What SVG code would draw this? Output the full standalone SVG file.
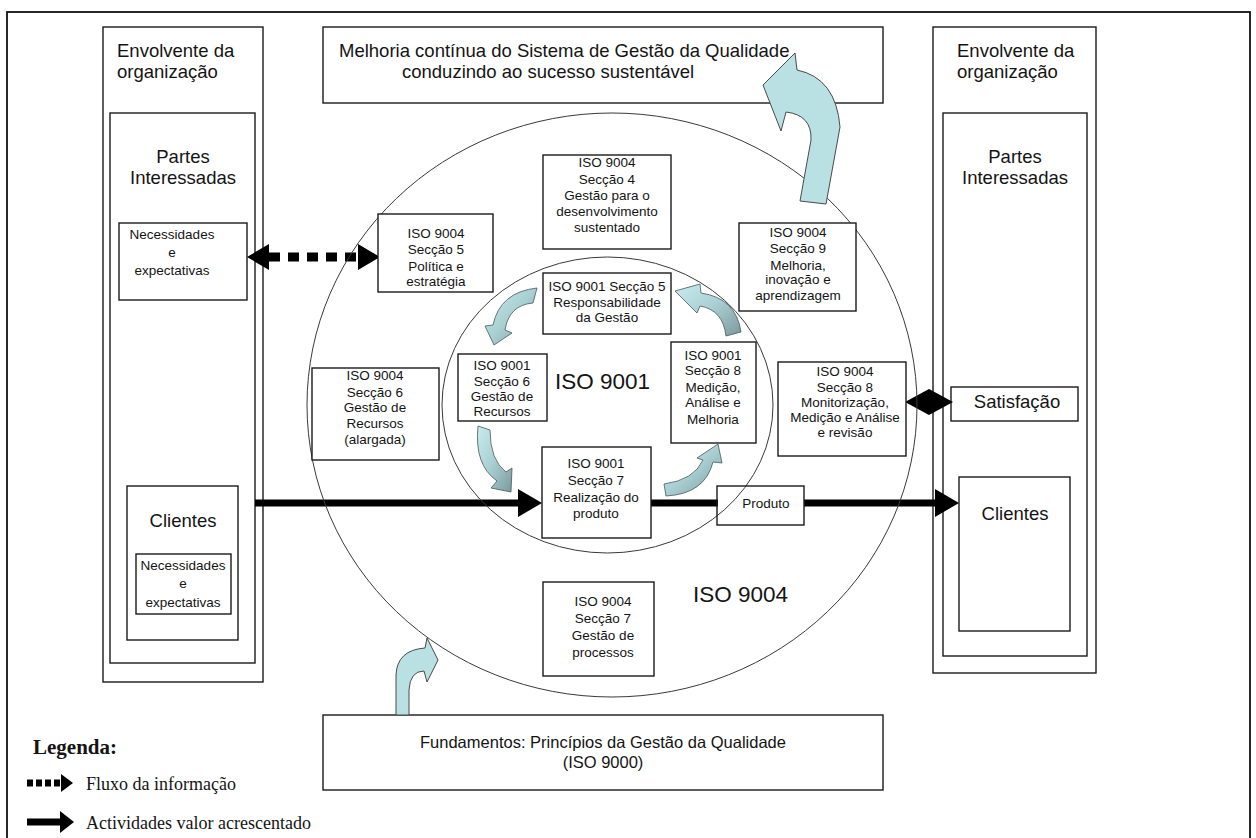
<svg xmlns="http://www.w3.org/2000/svg" width="1256" height="838" viewBox="0 0 1256 838">
<style>
text{font-family:"Liberation Sans",Arial,sans-serif;fill:#141414}
.box{fill:#fff;stroke:#1a1a1a;stroke-width:1.4}
.open{fill:none;stroke:#1a1a1a;stroke-width:1.4}
.ring{fill:none;stroke:#3a3a3a;stroke-width:1}
.t18{font-size:18.5px}
.t18c{font-size:18.5px;text-anchor:middle}
.t13{font-size:13.5px;text-anchor:middle}
.big{font-size:22.5px}
.leg{font-family:"Liberation Serif","Times New Roman",serif;font-size:18px}
.legb{font-family:"Liberation Serif","Times New Roman",serif;font-size:21px;font-weight:bold}
.thick{stroke:#000;stroke-width:7;fill:none}
.dash{stroke:#000;stroke-width:9;fill:none;stroke-dasharray:11 8}
.bigblue{fill:#b9e0e3;stroke:#4a4a4a;stroke-width:1}
.smallblue{fill:url(#gBlue);stroke:#46585b;stroke-width:0.8}
</style>
<defs>
<linearGradient id="gBlue" x1="0" y1="0" x2="1" y2="1">
<stop offset="0" stop-color="#c9ebee"/>
<stop offset="0.5" stop-color="#a9cfd3"/>
<stop offset="1" stop-color="#7b999d"/>
</linearGradient>
<marker id="headThick" markerUnits="userSpaceOnUse" markerWidth="24" markerHeight="28" refX="0" refY="14" orient="auto">
<path d="M0,0 L24,14 L0,28 Z" fill="#000"/>
</marker>
<marker id="headDash" markerUnits="userSpaceOnUse" markerWidth="22" markerHeight="26" refX="0" refY="13" orient="auto-start-reverse">
<path d="M0,0 L22,13 L0,26 Z" fill="#000"/>
</marker>
<marker id="headSmallThick" markerUnits="userSpaceOnUse" markerWidth="14" markerHeight="22" refX="0" refY="11" orient="auto">
<path d="M0,0 L14,11 L0,22 Z" fill="#000"/>
</marker>
<marker id="headSmallDash" markerUnits="userSpaceOnUse" markerWidth="12" markerHeight="18" refX="0" refY="9" orient="auto">
<path d="M0,0 L12,9 L0,18 Z" fill="#000"/>
</marker>
</defs>
<rect width="1256" height="838" fill="#fff"/>
<rect x="7" y="12" width="1243" height="840" fill="none" stroke="#111" stroke-width="1.8"/>

<g id="env-left">
<rect class="box" x="103" y="27" width="160" height="655"/>
<text class="t18" x="117" y="57">Envolvente da</text>
<text class="t18" x="117" y="78">organização</text>
</g>
<g id="partes-left">
<rect class="box" x="110" y="113" width="145" height="550"/>
<text class="t18c" x="183" y="163">Partes</text>
<text class="t18c" x="183" y="184">Interessadas</text>
</g>
<g id="necessidades-left">
<rect class="box" x="119" y="223" width="128" height="77"/>
<text class="t13" x="172" y="239">Necessidades</text>
<text class="t13" x="172" y="257">e</text>
<text class="t13" x="172" y="275">expectativas</text>
</g>
<g id="clientes-left">
<rect class="box" x="127" y="486" width="111" height="154"/>
<text class="t18c" x="183" y="527">Clientes</text>
</g>
<g id="clientes-necessidades">
<rect class="box" x="136" y="554" width="95" height="60"/>
<text class="t13" x="183" y="570">Necessidades</text>
<text class="t13" x="183" y="588">e</text>
<text class="t13" x="183" y="607">expectativas</text>
</g>

<g id="env-right">
<rect class="box" x="933" y="27" width="163" height="646"/>
<text class="t18" x="957" y="57">Envolvente da</text>
<text class="t18" x="957" y="78">organização</text>
</g>
<g id="partes-right">
<rect class="box" x="943" y="113" width="144" height="543"/>
<text class="t18c" x="1015" y="163">Partes</text>
<text class="t18c" x="1015" y="184">Interessadas</text>
</g>
<g id="satisfacao">
<rect class="box" x="951" y="387" width="127" height="34"/>
<text class="t18c" x="1017" y="408">Satisfação</text>
</g>
<g id="clientes-right">
<rect class="box" x="959" y="477" width="111" height="154"/>
<text class="t18c" x="1015" y="520">Clientes</text>
</g>

<g id="melhoria">
<rect class="box" x="323" y="27" width="560" height="76"/>
<text class="t18" x="339" y="57">Melhoria contínua do Sistema de Gestão da Qualidade</text>
<text class="t18" x="402" y="78">conduzindo ao sucesso sustentável</text>
</g>
<g id="fundamentos">
<rect class="box" x="323" y="715" width="560" height="75"/>
<text x="603" y="748" font-size="16.5" text-anchor="middle">Fundamentos: Princípios da Gestão da Qualidade</text>
<text x="603" y="768" font-size="16.5" text-anchor="middle">(ISO 9000)</text>
</g>

<g id="connectors">
<path class="dash" d="M269,257 L358,257" marker-start="url(#headDash)" marker-end="url(#headDash)"/>
<path class="thick" d="M255,503 L518,503" marker-end="url(#headThick)"/>
<path class="thick" d="M651,503 L718,503"/>
<path class="thick" d="M804,503 L935,503" marker-end="url(#headThick)"/>
<polygon points="905,402 929,389 953,402 929,415" fill="#000"/>
</g>

<g id="iso9004">
<ellipse class="ring" cx="612" cy="405" rx="305" ry="292"/>
<text class="big" x="693" y="602">ISO 9004</text>
</g>
<g id="iso9001">
<ellipse class="ring" cx="607.5" cy="405" rx="165.5" ry="148"/>
<text class="big" x="555" y="389">ISO 9001</text>
</g>

<g id="s9004-4">
<rect class="box" x="543" y="155" width="128" height="94"/>
<text class="t13" x="607" y="167">ISO 9004</text>
<text class="t13" x="607" y="184">Secção 4</text>
<text class="t13" x="607" y="200">Gestão para o</text>
<text class="t13" x="607" y="216">desenvolvimento</text>
<text class="t13" x="607" y="232">sustentado</text>
</g>
<g id="s9004-5">
<rect class="box" x="378" y="214" width="115" height="78"/>
<text class="t13" x="436" y="238">ISO 9004</text>
<text class="t13" x="436" y="254">Secção 5</text>
<text class="t13" x="436" y="271">Política e</text>
<text class="t13" x="436" y="286">estratégia</text>
</g>
<g id="s9004-9">
<rect class="box" x="739" y="223" width="117" height="88"/>
<text class="t13" x="798" y="237">ISO 9004</text>
<text class="t13" x="798" y="253">Secção 9</text>
<text class="t13" x="798" y="270">Melhoria,</text>
<text class="t13" x="798" y="284">inovação e</text>
<text class="t13" x="798" y="300">aprendizagem</text>
</g>
<g id="s9004-8">
<rect class="box" x="778" y="362" width="128" height="94"/>
<text class="t13" x="845" y="376">ISO 9004</text>
<text class="t13" x="845" y="392">Secção 8</text>
<text class="t13" x="845" y="407">Monitorização,</text>
<text class="t13" x="845" y="422">Medição e Análise</text>
<text class="t13" x="845" y="437">e revisão</text>
</g>
<g id="s9004-6">
<rect class="box" x="312" y="368" width="127" height="92"/>
<text class="t13" x="375" y="380">ISO 9004</text>
<text class="t13" x="375" y="397">Secção 6</text>
<text class="t13" x="375" y="412">Gestão de</text>
<text class="t13" x="375" y="428">Recursos</text>
<text class="t13" x="375" y="444">(alargada)</text>
</g>
<g id="s9004-7">
<rect class="box" x="543" y="582" width="111" height="94"/>
<text class="t13" x="603" y="606">ISO 9004</text>
<text class="t13" x="603" y="623">Secção 7</text>
<text class="t13" x="603" y="640">Gestão de</text>
<text class="t13" x="603" y="657">processos</text>
</g>

<g id="s9001-5">
<rect class="box" x="543" y="273" width="128" height="61"/>
<text class="t13" x="607" y="291">ISO 9001 Secção 5</text>
<text class="t13" x="607" y="307">Responsabilidade</text>
<text class="t13" x="607" y="322">da Gestão</text>
</g>
<g id="s9001-6">
<rect class="box" x="458" y="354" width="89" height="67"/>
<text class="t13" x="502" y="370">ISO 9001</text>
<text class="t13" x="502" y="386">Secção 6</text>
<text class="t13" x="502" y="401">Gestão de</text>
<text class="t13" x="502" y="416">Recursos</text>
</g>
<g id="s9001-8">
<rect class="box" x="671" y="342" width="85" height="101"/>
<text class="t13" x="713" y="360">ISO 9001</text>
<text class="t13" x="713" y="375">Secção 8</text>
<text class="t13" x="713" y="392">Medição,</text>
<text class="t13" x="713" y="407">Análise e</text>
<text class="t13" x="713" y="424">Melhoria</text>
</g>
<g id="s9001-7">
<rect class="box" x="542" y="447" width="109" height="91"/>
<text class="t13" x="596" y="468">ISO 9001</text>
<text class="t13" x="596" y="485">Secção 7</text>
<text class="t13" x="596" y="502">Realização do</text>
<text class="t13" x="596" y="518">produto</text>
</g>
<g id="produto">
<rect class="open" x="717" y="486" width="87" height="39"/>
<text class="t13" x="766" y="508">Produto</text>
</g>

<g id="cycle-arrows">
<path class="bigblue" d="M800,201 L811,140 Q812,115 786,112 L781,131 L763,85 L795,53 L797,70 Q836,78 840,127 L826,204 Z"/>
<path class="bigblue" d="M396,715 L396,675 Q397,650 425,648 L427,638 L438,660 L427,682 L424,671 Q410,671 409,690 L409,715 Z"/>
<path class="smallblue" d="M537,288 Q500,292 493,325 L485,326 L494,345 L512,333 L505,330 Q509,305 533,303 Z"/>
<path class="smallblue" d="M478,426 Q474,465 497,481 L491,488 L511,492 L512,468 L506,472 Q490,460 490,430 Z"/>
<path class="smallblue" d="M666,496 Q705,494 713,462 L722,463 L718,444 L697,458 L703,460 Q694,480 664,484 Z"/>
<path class="smallblue" d="M741,332 Q736,298 701,293 L700,284 L675,291 L697,313 L700,306 Q723,310 726,336 Z"/>
</g>

<g id="legend">
<text class="legb" x="33" y="754">Legenda:</text>
<path d="M27,783 L61,783" stroke="#000" stroke-width="7" stroke-dasharray="6 3" fill="none" marker-end="url(#headSmallDash)"/>
<text class="leg" x="86" y="790">Fluxo da informação</text>
<path d="M27,822 L60,822" stroke="#000" stroke-width="7" fill="none" marker-end="url(#headSmallThick)"/>
<text class="leg" x="86" y="829">Actividades valor acrescentado</text>
</g>
</svg>
